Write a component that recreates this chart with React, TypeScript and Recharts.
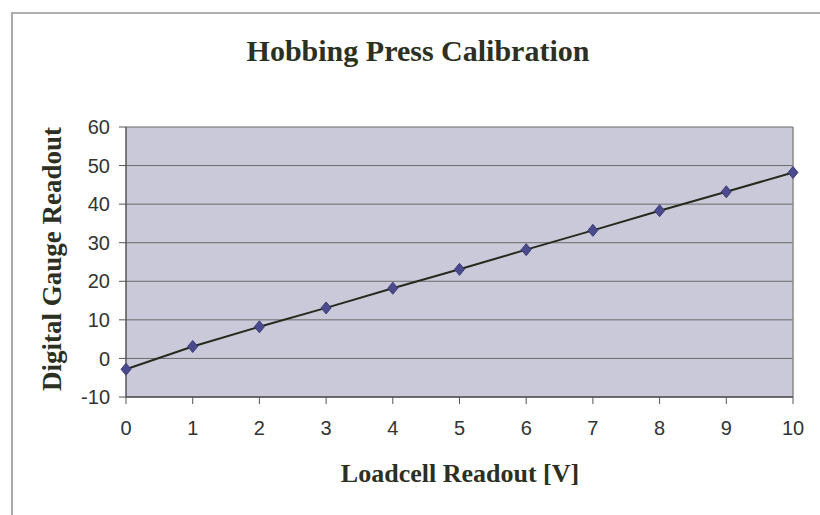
import React from "react";
import {
  CartesianGrid,
  Line,
  LineChart,
  ReferenceLine,
  XAxis,
  YAxis,
} from "recharts";

// loadcell volts vs gauge reading
const volts = [0, 1, 2, 3, 4, 5, 6, 7, 8, 9, 10];
const gauge = [-2.8, 3.1, 8.2, 13.1, 18.2, 23.1, 28.2, 33.2, 38.3, 43.2, 48.2];
const xTicks = [0, 1, 2, 3, 4, 5, 6, 7, 8, 9, 10];
const yTicks = [-10, 0, 10, 20, 30, 40, 50, 60];

const data = volts.map((v, i) => ({ v, g: gauge[i] }));

const serif = "'Liberation Serif', 'DejaVu Serif', serif";
const sans = "'Liberation Sans', Arial, sans-serif";
const ink = "#2c3022";

const Diamond = (props: any) => {
  const { cx, cy } = props;
  if (cx == null || cy == null) return null;
  return (
    <polygon
      points={`${cx},${cy - 6} ${cx + 5},${cy} ${cx},${cy + 6} ${cx - 5},${cy}`}
      fill="#4b4a8c"
      stroke="#3c3b78"
      strokeWidth={1}
    />
  );
};

export default function App() {
  return (
    <div
      style={{
        position: "absolute",
        left: 0,
        top: 0,
        width: 820,
        height: 515,
        background: "#fff",
        overflow: "hidden",
      }}
    >
      {/* chart area frame, only top and left edges show */}
      <div
        style={{
          position: "absolute",
          left: 11,
          top: 12,
          width: 820,
          height: 520,
          borderLeft: "2px solid #a8a8a8",
          borderTop: "2px solid #b0b0b0",
        }}
      />
      <div
        style={{
          position: "absolute",
          left: 0,
          width: 836,
          top: 34,
          lineHeight: "normal",
          textAlign: "center",
          fontFamily: serif,
          fontWeight: "bold",
          fontSize: 30,
          color: ink,
          whiteSpace: "nowrap",
        }}
      >
        Hobbing Press Calibration
      </div>
      <div
        style={{
          position: "absolute",
          left: 0,
          width: 920,
          top: 459,
          textAlign: "center",
          fontFamily: serif,
          fontWeight: "bold",
          fontSize: 26,
          color: ink,
          whiteSpace: "nowrap",
        }}
      >
        Loadcell Readout [V]
      </div>
      <div
        style={{
          position: "absolute",
          left: 52,
          top: 259,
          transform: "translate(-50%, -50%) rotate(-90deg)",
          whiteSpace: "nowrap",
          fontFamily: serif,
          fontWeight: "bold",
          fontSize: 27,
          color: ink,
        }}
      >
        Digital Gauge Readout
      </div>
      <LineChart
        width={820}
        height={515}
        data={data}
        margin={{ top: 127, right: 27, bottom: 78, left: 0 }}
        style={{ position: "absolute", left: 0, top: 0 }}
      >
        <CartesianGrid
          vertical={false}
          stroke="#6a6a6a"
          strokeWidth={1}
          fill="#cac9d9"
          fillOpacity={1}
        />
        <XAxis
          dataKey="v"
          type="number"
          domain={[0, 10]}
          ticks={xTicks}
          height={40}
          axisLine={{ stroke: "#555", strokeWidth: 1.5 }}
          tickLine={{ stroke: "#555" }}
          tickSize={7}
          tick={{ fill: "#333", fontSize: 20, fontFamily: sans }}
          tickMargin={17}
        />
        <YAxis
          type="number"
          domain={[-10, 60]}
          ticks={yTicks}
          width={126}
          axisLine={{ stroke: "#555", strokeWidth: 1.5 }}
          tickLine={{ stroke: "#555" }}
          tickSize={7}
          tick={{ fill: "#333", fontSize: 20, fontFamily: sans }}
          tickMargin={9}
          interval={0}
        />
        <ReferenceLine x={10} stroke="#8a8a8a" strokeWidth={1.5} />
        <Line
          dataKey="g"
          type="linear"
          stroke="#242a1c"
          strokeWidth={2}
          dot={<Diamond />}
          activeDot={false}
          isAnimationActive={false}
        />
      </LineChart>
    </div>
  );
}
